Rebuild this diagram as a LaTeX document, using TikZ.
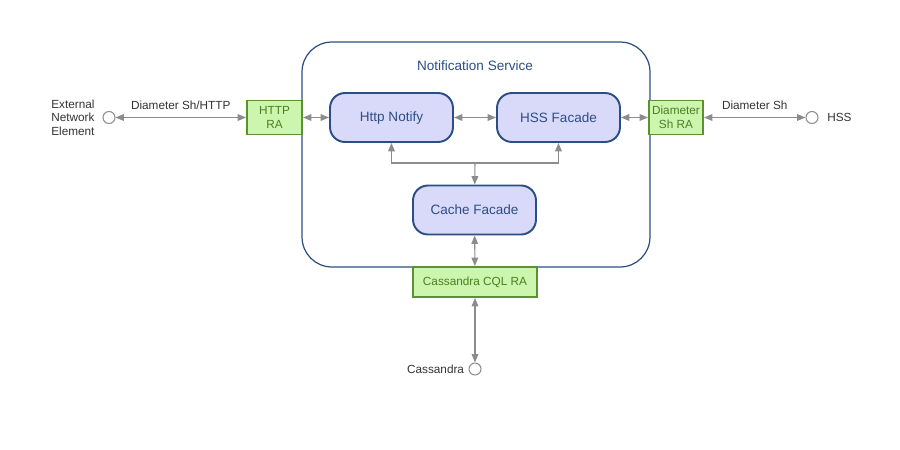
\documentclass[tikz,border=0pt]{standalone}
\usepackage{fontspec}
\setmainfont{Liberation Sans}
\usetikzlibrary{arrows.meta,positioning}
\definecolor{navy}{HTML}{2C4E85}
\definecolor{lav}{HTML}{D9D9FA}
\definecolor{grfill}{HTML}{CCF5AD}
\definecolor{grline}{HTML}{5A9230}
\definecolor{grtext}{HTML}{4B7F24}
\definecolor{conncol}{HTML}{8C8C8C}
\begin{document}
\begin{tikzpicture}[x=0.02cm,y=-0.02cm,>={Triangle[length=4.8pt,width=3.8pt]}]
\tikzstyle{every node}=[font=\fontsize{6.7}{7.8}\selectfont,text=black!80]
\tikzstyle{comp}=[draw=navy,fill=lav,line width=1.1pt,rounded corners=8.5pt,minimum width=2.46cm,minimum height=0.98cm,text=navy,font=\fontsize{7.7}{9}\selectfont]
\tikzstyle{ra}=[draw=grline,fill=grfill,line width=1.1pt,inner sep=0pt,text=grtext,align=center,font=\fontsize{6.7}{8}\selectfont]
\tikzstyle{port}=[circle,draw=black!45,fill=white,line width=0.6pt,minimum size=0.24cm,inner sep=0pt]
\tikzstyle{conn}=[draw=conncol,line width=0.6pt]
\useasboundingbox (0,0) rectangle (900,450);
\node[draw=navy,fill=white,line width=0.7pt,rounded corners=17pt,minimum width=6.96cm,minimum height=4.5cm] (ns) at (476,154.5) {};
\node[text=navy,font=\fontsize{7.7}{9}\selectfont] (title) at (475,65.5) {Notification Service};
\node[comp] (notify) at (391.5,117.5) {Http Notify};
\node[comp] (hss) at (558.5,117.5) {HSS Facade};
\node[comp] (cache) at (474.5,210) {Cache Facade};
\node[ra,minimum width=1.1cm,minimum height=0.68cm] (httpra) at (274.5,117.5) {HTTP\\RA};
\node[ra,minimum width=1.08cm,minimum height=0.68cm] (shra) at (676,117.5) {Diameter\\Sh RA};
\node[ra,minimum width=2.48cm,minimum height=0.6cm] (cqlra) at (475,282) {Cassandra CQL RA};
\node[port] (ext) at (109,117.5) {};
\node[left=1pt of ext,align=left] (extlbl) {External\\Network\\Element};
\node[port] (hsscirc) at (812,117.5) {};
\node[right=1.5pt of hsscirc] (hsslbl) {HSS};
\node[port] (cass) at (475,369) {};
\node[left=-1pt of cass] (casslbl) {Cassandra};
\coordinate (j) at (475,163);
\draw[conn,<->] (ext) -- (httpra) node[midway,above=1pt]{Diameter Sh/HTTP};
\draw[conn,<->] (httpra) -- (notify);
\draw[conn,<->] (notify) -- (hss);
\draw[conn,<->] (hss) -- (shra);
\draw[conn,<->] (shra) -- (hsscirc) node[midway,above=1pt]{Diameter Sh};
\draw[conn,<->] (notify.south) |- (j) -| (hss.south);
\draw[conn,->] (j) -- (cache);
\draw[conn,<->] (cache) -- (cqlra);
\draw[conn,<->] (cqlra) -- (cass);
\end{tikzpicture}
\end{document}
